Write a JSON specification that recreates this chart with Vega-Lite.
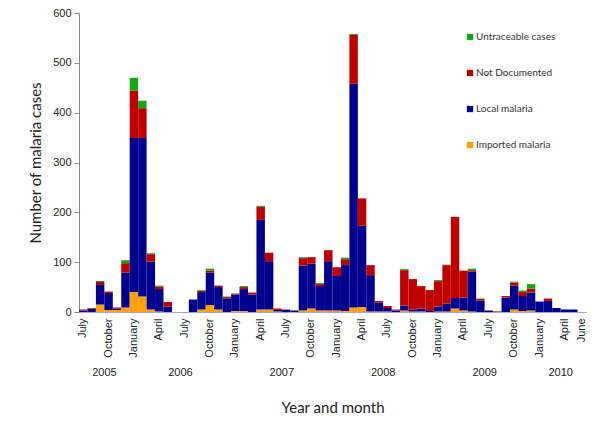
{
  "$schema": "https://vega.github.io/schema/vega-lite/v6.json",
  "width": 507,
  "height": 299,
  "autosize": {"type": "none"},
  "padding": {"left": 79, "top": 13, "right": 14, "bottom": 122},
  "background": "white",
  "config": {"view": {"stroke": null}, "font": "Liberation Sans"},
  "layer": [
    {
      "data": {"values": [
        {"month":"2005-07","Imported malaria":0,"Local malaria":3,"Not Documented":2,"Untraceable cases":0},
        {"month":"2005-08","Imported malaria":0,"Local malaria":7,"Not Documented":1,"Untraceable cases":0},
        {"month":"2005-09","Imported malaria":15,"Local malaria":39,"Not Documented":6,"Untraceable cases":2},
        {"month":"2005-10","Imported malaria":4,"Local malaria":34,"Not Documented":3,"Untraceable cases":0},
        {"month":"2005-11","Imported malaria":4,"Local malaria":3,"Not Documented":2,"Untraceable cases":0},
        {"month":"2005-12","Imported malaria":9,"Local malaria":70,"Not Documented":19,"Untraceable cases":6},
        {"month":"2006-01","Imported malaria":40,"Local malaria":309,"Not Documented":95,"Untraceable cases":26},
        {"month":"2006-02","Imported malaria":31,"Local malaria":318,"Not Documented":60,"Untraceable cases":15},
        {"month":"2006-03","Imported malaria":5,"Local malaria":96,"Not Documented":15,"Untraceable cases":2},
        {"month":"2006-04","Imported malaria":1,"Local malaria":45,"Not Documented":5,"Untraceable cases":2},
        {"month":"2006-05","Imported malaria":0,"Local malaria":11,"Not Documented":9,"Untraceable cases":0},
        {"month":"2006-06","Imported malaria":0,"Local malaria":0,"Not Documented":0,"Untraceable cases":0},
        {"month":"2006-07","Imported malaria":0,"Local malaria":0,"Not Documented":0,"Untraceable cases":0},
        {"month":"2006-08","Imported malaria":0,"Local malaria":25,"Not Documented":0,"Untraceable cases":0},
        {"month":"2006-09","Imported malaria":5,"Local malaria":35,"Not Documented":3,"Untraceable cases":1},
        {"month":"2006-10","Imported malaria":14,"Local malaria":65,"Not Documented":4,"Untraceable cases":4},
        {"month":"2006-11","Imported malaria":5,"Local malaria":45,"Not Documented":3,"Untraceable cases":0},
        {"month":"2006-12","Imported malaria":0,"Local malaria":27,"Not Documented":3,"Untraceable cases":1},
        {"month":"2007-01","Imported malaria":2,"Local malaria":33,"Not Documented":2,"Untraceable cases":0},
        {"month":"2007-02","Imported malaria":2,"Local malaria":44,"Not Documented":4,"Untraceable cases":2},
        {"month":"2007-03","Imported malaria":0,"Local malaria":35,"Not Documented":4,"Untraceable cases":0},
        {"month":"2007-04","Imported malaria":5,"Local malaria":180,"Not Documented":26,"Untraceable cases":2},
        {"month":"2007-05","Imported malaria":5,"Local malaria":97,"Not Documented":17,"Untraceable cases":0},
        {"month":"2007-06","Imported malaria":1,"Local malaria":3,"Not Documented":3,"Untraceable cases":0},
        {"month":"2007-07","Imported malaria":0,"Local malaria":4,"Not Documented":1,"Untraceable cases":0},
        {"month":"2007-08","Imported malaria":0,"Local malaria":3,"Not Documented":0,"Untraceable cases":0},
        {"month":"2007-09","Imported malaria":3,"Local malaria":90,"Not Documented":15,"Untraceable cases":2},
        {"month":"2007-10","Imported malaria":7,"Local malaria":90,"Not Documented":13,"Untraceable cases":0},
        {"month":"2007-11","Imported malaria":3,"Local malaria":49,"Not Documented":4,"Untraceable cases":2},
        {"month":"2007-12","Imported malaria":3,"Local malaria":99,"Not Documented":22,"Untraceable cases":0},
        {"month":"2008-01","Imported malaria":3,"Local malaria":69,"Not Documented":18,"Untraceable cases":0},
        {"month":"2008-02","Imported malaria":2,"Local malaria":92,"Not Documented":12,"Untraceable cases":3},
        {"month":"2008-03","Imported malaria":9,"Local malaria":449,"Not Documented":98,"Untraceable cases":2},
        {"month":"2008-04","Imported malaria":10,"Local malaria":163,"Not Documented":55,"Untraceable cases":0},
        {"month":"2008-05","Imported malaria":1,"Local malaria":73,"Not Documented":20,"Untraceable cases":0},
        {"month":"2008-06","Imported malaria":1,"Local malaria":18,"Not Documented":3,"Untraceable cases":0},
        {"month":"2008-07","Imported malaria":1,"Local malaria":7,"Not Documented":4,"Untraceable cases":0},
        {"month":"2008-08","Imported malaria":0,"Local malaria":3,"Not Documented":2,"Untraceable cases":0},
        {"month":"2008-09","Imported malaria":3,"Local malaria":10,"Not Documented":71,"Untraceable cases":2},
        {"month":"2008-10","Imported malaria":1,"Local malaria":4,"Not Documented":61,"Untraceable cases":0},
        {"month":"2008-11","Imported malaria":1,"Local malaria":6,"Not Documented":45,"Untraceable cases":0},
        {"month":"2008-12","Imported malaria":0,"Local malaria":2,"Not Documented":42,"Untraceable cases":0},
        {"month":"2009-01","Imported malaria":1,"Local malaria":10,"Not Documented":51,"Untraceable cases":2},
        {"month":"2009-02","Imported malaria":1,"Local malaria":16,"Not Documented":77,"Untraceable cases":1},
        {"month":"2009-03","Imported malaria":7,"Local malaria":21,"Not Documented":163,"Untraceable cases":0},
        {"month":"2009-04","Imported malaria":3,"Local malaria":26,"Not Documented":54,"Untraceable cases":0},
        {"month":"2009-05","Imported malaria":1,"Local malaria":80,"Not Documented":3,"Untraceable cases":3},
        {"month":"2009-06","Imported malaria":0,"Local malaria":23,"Not Documented":3,"Untraceable cases":1},
        {"month":"2009-07","Imported malaria":0,"Local malaria":3,"Not Documented":0,"Untraceable cases":0},
        {"month":"2009-08","Imported malaria":1,"Local malaria":0,"Not Documented":1,"Untraceable cases":0},
        {"month":"2009-09","Imported malaria":0,"Local malaria":29,"Not Documented":3,"Untraceable cases":0},
        {"month":"2009-10","Imported malaria":5,"Local malaria":48,"Not Documented":6,"Untraceable cases":2},
        {"month":"2009-11","Imported malaria":2,"Local malaria":30,"Not Documented":8,"Untraceable cases":3},
        {"month":"2009-12","Imported malaria":3,"Local malaria":36,"Not Documented":8,"Untraceable cases":9},
        {"month":"2010-01","Imported malaria":0,"Local malaria":21,"Not Documented":0,"Untraceable cases":0},
        {"month":"2010-02","Imported malaria":0,"Local malaria":22,"Not Documented":5,"Untraceable cases":0},
        {"month":"2010-03","Imported malaria":0,"Local malaria":8,"Not Documented":0,"Untraceable cases":0},
        {"month":"2010-04","Imported malaria":0,"Local malaria":5,"Not Documented":0,"Untraceable cases":1},
        {"month":"2010-05","Imported malaria":0,"Local malaria":5,"Not Documented":0,"Untraceable cases":0},
        {"month":"2010-06","Imported malaria":0,"Local malaria":0,"Not Documented":0,"Untraceable cases":0}
      ]},
      "transform": [{"fold": ["Imported malaria", "Local malaria", "Not Documented", "Untraceable cases"], "as": ["type", "cases"]}],
      "mark": {"type": "bar"},
      "encoding": {
        "x": {
          "field": "month", "type": "ordinal",
          "scale": {"paddingInner": 0, "paddingOuter": 0},
          "axis": {
            "title": null,
            "orient": "bottom",
            "values": ["2005-07","2005-10","2006-01","2006-04","2006-07","2006-10","2007-01","2007-04","2007-07","2007-10","2008-01","2008-04","2008-07","2008-10","2009-01","2009-04","2009-07","2009-10","2010-01","2010-04","2010-06"],
            "labelExpr": "slice(datum.value,5)=='01' ? 'January' : slice(datum.value,5)=='04' ? 'April' : slice(datum.value,5)=='06' ? 'June' : slice(datum.value,5)=='07' ? 'July' : 'October'",
            "labelAngle": -90,
            "labelFontSize": 11,
            "labelColor": "#222222",
            "labelPadding": 6,
            "ticks": false,
            "domainColor": "#A3A3DA",
            "domainWidth": 1,
            "labelOverlap": false
          }
        },
        "y": {
          "field": "cases", "type": "quantitative", "stack": "zero",
          "scale": {"domain": [0, 600], "nice": false},
          "axis": {
            "title": "Number of malaria cases",
            "values": [0, 100, 200, 300, 400, 500, 600],
            "grid": false,
            "labelFontSize": 11,
            "labelColor": "#222222",
            "labelPadding": 3,
            "tickSize": 5,
            "tickColor": "#888888",
            "domainColor": "#888888",
            "titleFont": "Lato",
            "titleFontSize": 15,
            "titleFontWeight": "normal",
            "titleColor": "#222222",
            "titlePadding": 9
          }
        },
        "color": {
          "field": "type", "type": "nominal",
          "scale": {
            "domain": ["Untraceable cases", "Not Documented", "Local malaria", "Imported malaria"],
            "range": ["#12A612", "#C00000", "#00008E", "#FFA20A"]
          },
          "legend": {
            "title": null,
            "orient": "none",
            "legendX": 386,
            "legendY": 19,
            "symbolType": "square",
            "symbolSize": 40,
            "symbolStrokeWidth": 0,
            "labelFont": "Lato",
            "labelFontSize": 10,
            "labelColor": "#333333",
            "labelOffset": 1,
            "rowPadding": 26,
            "padding": 0
          }
        },
        "order": {"field": "type", "sort": "ascending"}
      }
    },
    {
      "data": {"values": [
        {"month": "2005-10"}, {"month": "2006-07"}, {"month": "2007-07"},
        {"month": "2008-07"}, {"month": "2009-07"}, {"month": "2010-04"}
      ]},
      "mark": {"type": "rule", "opacity": 0},
      "encoding": {
        "x": {
          "field": "month", "type": "ordinal",
          "axis": {
            "orient": "bottom",
            "offset": 52,
            "values": ["2005-10", "2006-07", "2007-07", "2008-07", "2009-07", "2010-04"],
            "labelOffset": -4.2,
            "domain": false,
            "ticks": false,
            "labelAngle": 0,
            "labelAlign": "center",
            "labelBaseline": "top",
            "labelFontSize": 11,
            "labelColor": "#222222",
            "labelPadding": 2,
            "labelExpr": "slice(datum.value,0,4)",
            "title": "Year and month",
            "titleFont": "Lato",
            "titleFontSize": 15,
            "titleFontWeight": "normal",
            "titleColor": "#222222",
            "titlePadding": 23
          }
        }
      }
    }
  ],
  "resolve": {"axis": {"x": "independent"}}
}
